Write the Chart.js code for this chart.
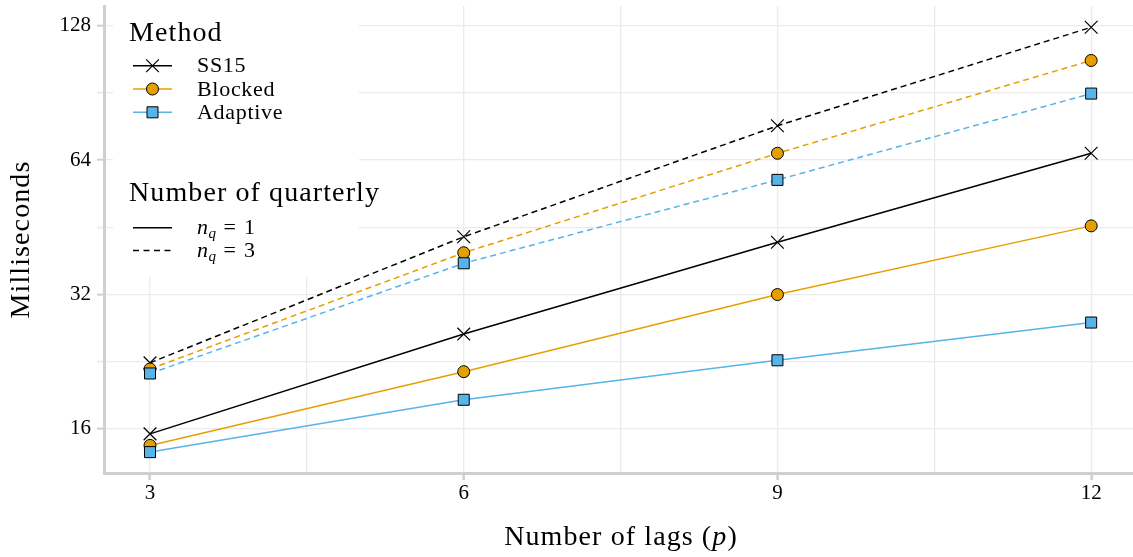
<!DOCTYPE html>
<html lang="en">
  <head>
    <meta charset="UTF-8" />
    <title>Milliseconds by number of lags</title>
    <script src="https://cdn.jsdelivr.net/npm/chart.js@4.4.1/dist/chart.umd.min.js"></script>
    <style>
      body { margin: 0; background: #fff; }
    </style>
  </head>
  <body>
    <canvas id="myChart" width="1133" height="557"></canvas>
    <script>
    // values (ms, log2 y axis)
    const lags = [3, 6, 9, 12];
    const ss15_nq1 = [15.6, 26.1, 41.9, 66.3];
    const blocked_nq1 = [14.7, 21.5, 32.0, 45.6];
    const adaptive_nq1 = [14.2, 18.6, 22.8, 27.7];
    const ss15_nq3 = [22.5, 43.1, 76.4, 127.0];
    const blocked_nq3 = [21.8, 39.7, 66.3, 107.0];
    const adaptive_nq3 = [21.3, 37.6, 57.8, 90.2];

    const xTicks = [3, 4.5, 6, 7.5, 9, 10.5, 12];
    const yTicks = [16, 22.63, 32, 45.25, 64, 90.51, 128];
    const yMajor = [16, 32, 64, 128];

    const serif = "'Liberation Serif', 'DejaVu Serif', serif";
    const ORANGE = '#E69F00';
    const BLUE = '#56B4E9';
    const GRID = '#ebebeb';
    const AXIS = '#cfcfcf';

    function pts(ys) {
      return lags.map((x, i) => ({ x: x, y: ys[i] }));
    }

    const styles = {
      SS15: { color: '#000000', pointStyle: 'crossRot', radius: 9, fill: '#000000', order: 2 },
      Blocked: { color: ORANGE, pointStyle: 'circle', radius: 6, fill: ORANGE, order: 1 },
      Adaptive: { color: BLUE, pointStyle: 'rect', radius: 7.8, fill: BLUE, order: 0 }
    };

    function ds(name, ys, dashed) {
      const s = styles[name];
      return {
        label: name + (dashed ? ' nq=3' : ' nq=1'),
        data: pts(ys),
        borderColor: s.color,
        borderWidth: 1.5,
        borderDash: dashed ? [6, 4] : [],
        pointStyle: s.pointStyle,
        pointRadius: s.radius,
        pointBackgroundColor: s.fill,
        pointBorderColor: '#000000',
        pointBorderWidth: name === 'SS15' ? 1.2 : 1,
        fill: false,
        tension: 0,
        order: s.order
      };
    }

    function drawMarker(ctx, name, x, y) {
      const s = styles[name];
      ctx.save();
      ctx.fillStyle = s.fill;
      ctx.strokeStyle = '#000';
      ctx.lineWidth = name === 'SS15' ? 1.2 : 1;
      Chart.helpers.drawPoint(ctx, { pointStyle: s.pointStyle, radius: s.radius, borderWidth: ctx.lineWidth }, x, y);
      ctx.restore();
    }

    const extras = {
      id: 'extras',
      afterDraw(chart) {
        const ctx = chart.ctx;
        const a = chart.chartArea;
        ctx.save();

        // legend box
        ctx.fillStyle = '#fff';
        ctx.fillRect(113, a.top, 246, 277 - a.top);

        ctx.fillStyle = '#000';
        ctx.textAlign = 'left';
        ctx.textBaseline = 'alphabetic';
        ctx.letterSpacing = '1.1px';
        ctx.font = '28px ' + serif;
        ctx.fillText('Method', 129, 41);

        const names = ['SS15', 'Blocked', 'Adaptive'];
        const rowsY = [65.7, 89, 112.3];
        ctx.font = '22px ' + serif;
        ctx.letterSpacing = '0.7px';
        names.forEach((n, i) => {
          const y = rowsY[i];
          ctx.strokeStyle = styles[n].color;
          ctx.lineWidth = 1.5;
          ctx.setLineDash([]);
          ctx.beginPath();
          ctx.moveTo(133, y);
          ctx.lineTo(172, y);
          ctx.stroke();
          drawMarker(ctx, n, 152.5, y);
          ctx.fillStyle = '#000';
          ctx.fillText(n, 197, y + 6.5);
        });

        ctx.letterSpacing = '1.1px';
        ctx.font = '28px ' + serif;
        ctx.fillText('Number of quarterly', 129, 201);

        const nq = ['1', '3'];
        const nqY = [227.7, 250.5];
        ctx.letterSpacing = '0px';
        nq.forEach((v, i) => {
          const y = nqY[i];
          ctx.strokeStyle = '#000';
          ctx.lineWidth = 1.5;
          ctx.setLineDash(i === 0 ? [] : [6, 4.5]);
          ctx.beginPath();
          ctx.moveTo(133, y);
          ctx.lineTo(172, y);
          ctx.stroke();
          ctx.setLineDash([]);
          let x = 197;
          const base = y + 6;
          ctx.font = 'italic 22px ' + serif;
          ctx.fillText('n', x, base);
          x += ctx.measureText('n').width;
          ctx.font = 'italic 15px ' + serif;
          ctx.fillText('q', x + 0.5, base + 4);
          x += ctx.measureText('q').width + 8;
          ctx.font = '22px ' + serif;
          ctx.fillText('=', x, base);
          x += ctx.measureText('=').width + 8;
          ctx.fillText(v, x, base);
        });

        // y axis title
        ctx.letterSpacing = '1.1px';
        ctx.save();
        ctx.translate(22, (a.top + a.bottom) / 2);
        ctx.rotate(-Math.PI / 2);
        ctx.textAlign = 'center';
        ctx.textBaseline = 'middle';
        ctx.font = '28px ' + serif;
        ctx.fillText('Milliseconds', 0, 0);
        ctx.restore();

        // x axis title with italic p
        const parts = [['Number of lags (', ''], ['p', 'italic '], [')', '']];
        let total = 0;
        parts.forEach(p => { ctx.font = p[1] + '28px ' + serif; total += ctx.measureText(p[0]).width; });
        let x = 621 - total / 2;
        parts.forEach(p => {
          ctx.font = p[1] + '28px ' + serif;
          ctx.fillText(p[0], x, 545);
          x += ctx.measureText(p[0]).width;
        });

        ctx.restore();
      }
    };

    const ctx = document.getElementById('myChart').getContext('2d');
    const myChart = new Chart(ctx, {
      type: 'line',
      data: {
        datasets: [
          ds('SS15', ss15_nq1, false),
          ds('Blocked', blocked_nq1, false),
          ds('Adaptive', adaptive_nq1, false),
          ds('SS15', ss15_nq3, true),
          ds('Blocked', blocked_nq3, true),
          ds('Adaptive', adaptive_nq3, true)
        ]
      },
      options: {
        responsive: false,
        animation: false,
        layout: { autoPadding: false, padding: { top: 6, right: 0, left: 0, bottom: 0 } },
        plugins: { legend: { display: false }, tooltip: { enabled: false } },
        scales: {
          x: {
            type: 'linear',
            min: 2.56,
            max: 12.4,
            afterBuildTicks: s => { s.ticks = xTicks.map(v => ({ value: v })); },
            afterFit: s => { s.height = 84; s.paddingLeft = 0; s.paddingRight = 0; },
            ticks: {
              autoSkip: false,
              maxRotation: 0,
              padding: 1,
              color: '#000',
              font: { family: serif, size: 21 },
              callback: v => (v % 3 === 0 ? String(v) : '')
            },
            grid: {
              color: GRID,
              lineWidth: 1.3,
              tickLength: 7,
              tickColor: c => (c.tick && c.tick.value % 3 === 0 ? AXIS : 'rgba(0,0,0,0)'),
              tickWidth: 2.5
            },
            border: { color: AXIS, width: 3 }
          },
          y: {
            type: 'logarithmic',
            min: 12.75,
            max: 141.7,
            afterBuildTicks: s => { s.ticks = yTicks.map(v => ({ value: v })); },
            afterFit: s => { s.width = 104; s.paddingTop = 0; s.paddingBottom = 0; },
            ticks: {
              autoSkip: false,
              padding: 6,
              color: '#000',
              font: { family: serif, size: 21 },
              callback: v => (yMajor.includes(v) ? String(v) : '')
            },
            grid: {
              color: GRID,
              lineWidth: 1.3,
              tickLength: 7,
              tickColor: c => (c.tick && yMajor.includes(c.tick.value) ? AXIS : '#ececec'),
              tickWidth: 2
            },
            border: { color: AXIS, width: 3 }
          }
        }
      },
      plugins: [extras]
    });
    </script>
  </body>
</html>
